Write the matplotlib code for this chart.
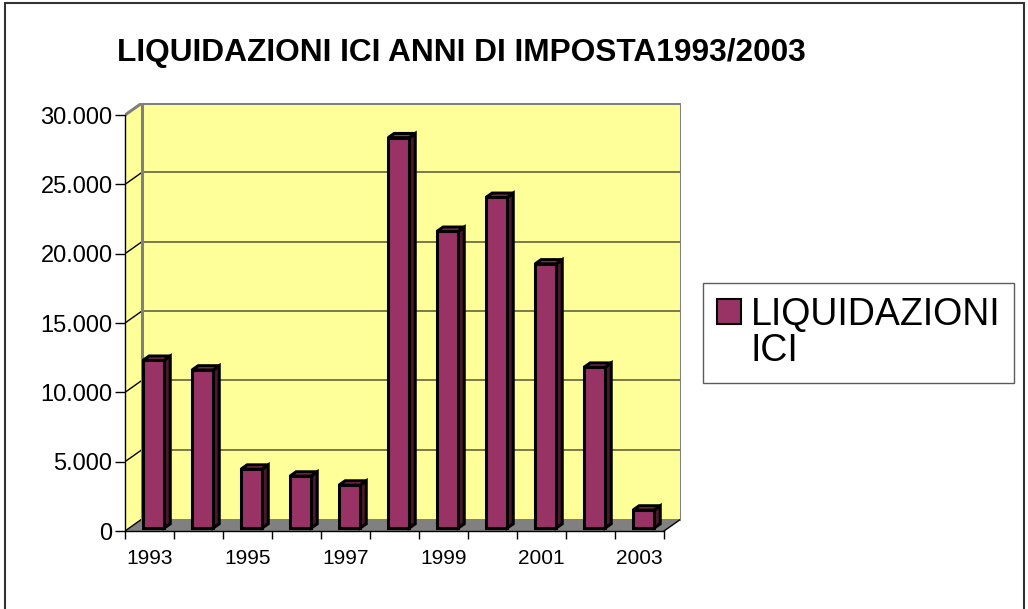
import matplotlib
matplotlib.use("Agg")
import matplotlib.pyplot as plt
from matplotlib.patches import Polygon, Rectangle, Patch
from matplotlib.ticker import FuncFormatter

plt.rcParams['font.family'] = ['Liberation Sans', 'DejaVu Sans']

anni = ['1993', '1994', '1995', '1996', '1997', '1998', '1999', '2000', '2001', '2002', '2003']
liquidazioni = [12100, 11400, 4250, 3750, 3100, 28150, 21400, 23850, 19050, 11600, 1300]
serie = ['LIQUIDAZIONI', 'ICI']
titolo = 'LIQUIDAZIONI ICI ANNI DI IMPOSTA1993/2003'

W, H = 1028, 609
fig = plt.figure(figsize=(W / 100, H / 100), dpi=100)

# finta prospettiva 3D: spostamento della parete di fondo
DX = 0.347      # in categorie
DY = 867        # in unita' del valore
YMAX = 30000
n = len(anni)
x0, x1 = -0.5, n - 0.5

ax = fig.add_axes([125 / W, 1 - 531 / H, 556 / W, 428 / H])
ax.set_xlim(x0, x1 + DX)
ax.set_ylim(0, YMAX + DY)
ax.patch.set_visible(False)

giallo = '#FFFF99'
grigio = '#808080'

# pavimento
ax.add_patch(Polygon([(x0, 0), (x1, 0), (x1 + DX, DY), (x0 + DX, DY)],
                     closed=True, facecolor=grigio, edgecolor='none', zorder=1))
# parete laterale
ax.add_patch(Polygon([(x0, 0), (x0 + DX, DY), (x0 + DX, YMAX + DY), (x0, YMAX)],
                     closed=True, facecolor=giallo, edgecolor='none', zorder=1))
# parete di fondo
ax.add_patch(Rectangle((x0 + DX, DY), x1 - x0, YMAX, facecolor=giallo,
                       edgecolor='none', zorder=1))

# griglia
for liv in range(5000, YMAX, 5000):
    ax.plot([x0 + DX, x1 + DX], [liv + DY, liv + DY], color='#6E6E45', lw=1.3, zorder=2)
    ax.plot([x0, x0 + DX], [liv, liv + DY], color='black', lw=1.0, zorder=2)
ax.plot([x0, x0 + DX], [0, DY], color='black', lw=1.0, zorder=2)
ax.plot([x1, x1 + DX], [0, DY], color='black', lw=1.0, zorder=2)
ax.plot([x0 + DX, x0 + DX, x1 + DX, x1 + DX], [DY, YMAX + DY, YMAX + DY, DY],
        color=grigio, lw=2.2, zorder=2, solid_joinstyle='miter')
ax.plot([x0, x0 + DX], [YMAX, YMAX + DY], color=grigio, lw=2.2, zorder=2)

# colonne
f0, f1 = 0.25, 0.60
bw = 0.43
fronte, lato, cima = '#993366', '#4A1830', '#993366'
for i, v in enumerate(liquidazioni):
    xa = i - bw / 2 + f0 * DX
    xb = i + bw / 2 + f0 * DX
    yb = f0 * DY
    yt = yb + v
    ddx = (f1 - f0) * DX
    ddy = (f1 - f0) * DY
    kw = dict(closed=True, edgecolor='black', lw=2.2, joinstyle='miter', zorder=3)
    ax.add_patch(Polygon([(xb, yb), (xb + ddx, yb + ddy), (xb + ddx, yt + ddy), (xb, yt)],
                         facecolor=lato, **kw))
    ax.add_patch(Polygon([(xa, yt), (xb, yt), (xb + ddx, yt + ddy), (xa + ddx, yt + ddy)],
                         facecolor=cima, **kw))
    ax.add_patch(Polygon([(xa, yb), (xb, yb), (xb, yt), (xa, yt)],
                         facecolor=fronte, **kw))

# assi
for s in ['top', 'right']:
    ax.spines[s].set_visible(False)
ax.spines['left'].set_bounds(0, YMAX)
ax.spines['bottom'].set_bounds(x0, x1)
for s in ['left', 'bottom']:
    ax.spines[s].set_color('black')
    ax.spines[s].set_linewidth(1.0)
    ax.spines[s].set_zorder(4)

ax.set_yticks(range(0, YMAX + 1, 5000))
ax.yaxis.set_major_formatter(FuncFormatter(lambda v, p: f'{int(v):,}'.replace(',', '.')))
ax.tick_params(axis='y', direction='out', length=7, width=1, pad=2, labelsize=17)

ax.set_xticks(range(0, n, 2))
ax.set_xticklabels(anni[::2])
ax.set_xticks([x0 + k for k in range(n + 1)], minor=True)
ax.tick_params(axis='x', which='major', length=0, pad=13, labelsize=15)
ax.tick_params(axis='x', which='minor', direction='out', length=6, width=1)

# titolo
fig.text(117 / W, 1 - 61 / H, titolo, fontsize=22.8, fontweight='bold', va='baseline', ha='left')

# legenda: l'etichetta va a capo, il quadratino resta sulla prima riga
handles = [Patch(facecolor=fronte, edgecolor='black', lw=1.5),
           Patch(facecolor='none', edgecolor='none')]
leg = fig.legend(handles=handles, labels=serie,
                 loc='upper left', bbox_to_anchor=(703 / W, 1 - 283 / H),
                 bbox_transform=fig.transFigure, fontsize=27, frameon=True, fancybox=False,
                 handlelength=0.64, handleheight=0.64, handletextpad=0.28, borderpad=0.36,
                 labelspacing=0.02, borderaxespad=0)
leg.get_frame().set_edgecolor('#333333')
leg.get_frame().set_linewidth(1.0)

# cornice del grafico
fig.add_artist(Rectangle((5 / W, -0.1), 1019 / W, 1.1 - 3 / H, transform=fig.transFigure,
                         fill=False, edgecolor='#333333', lw=1.5))

fig.savefig('out.png', dpi=100)
